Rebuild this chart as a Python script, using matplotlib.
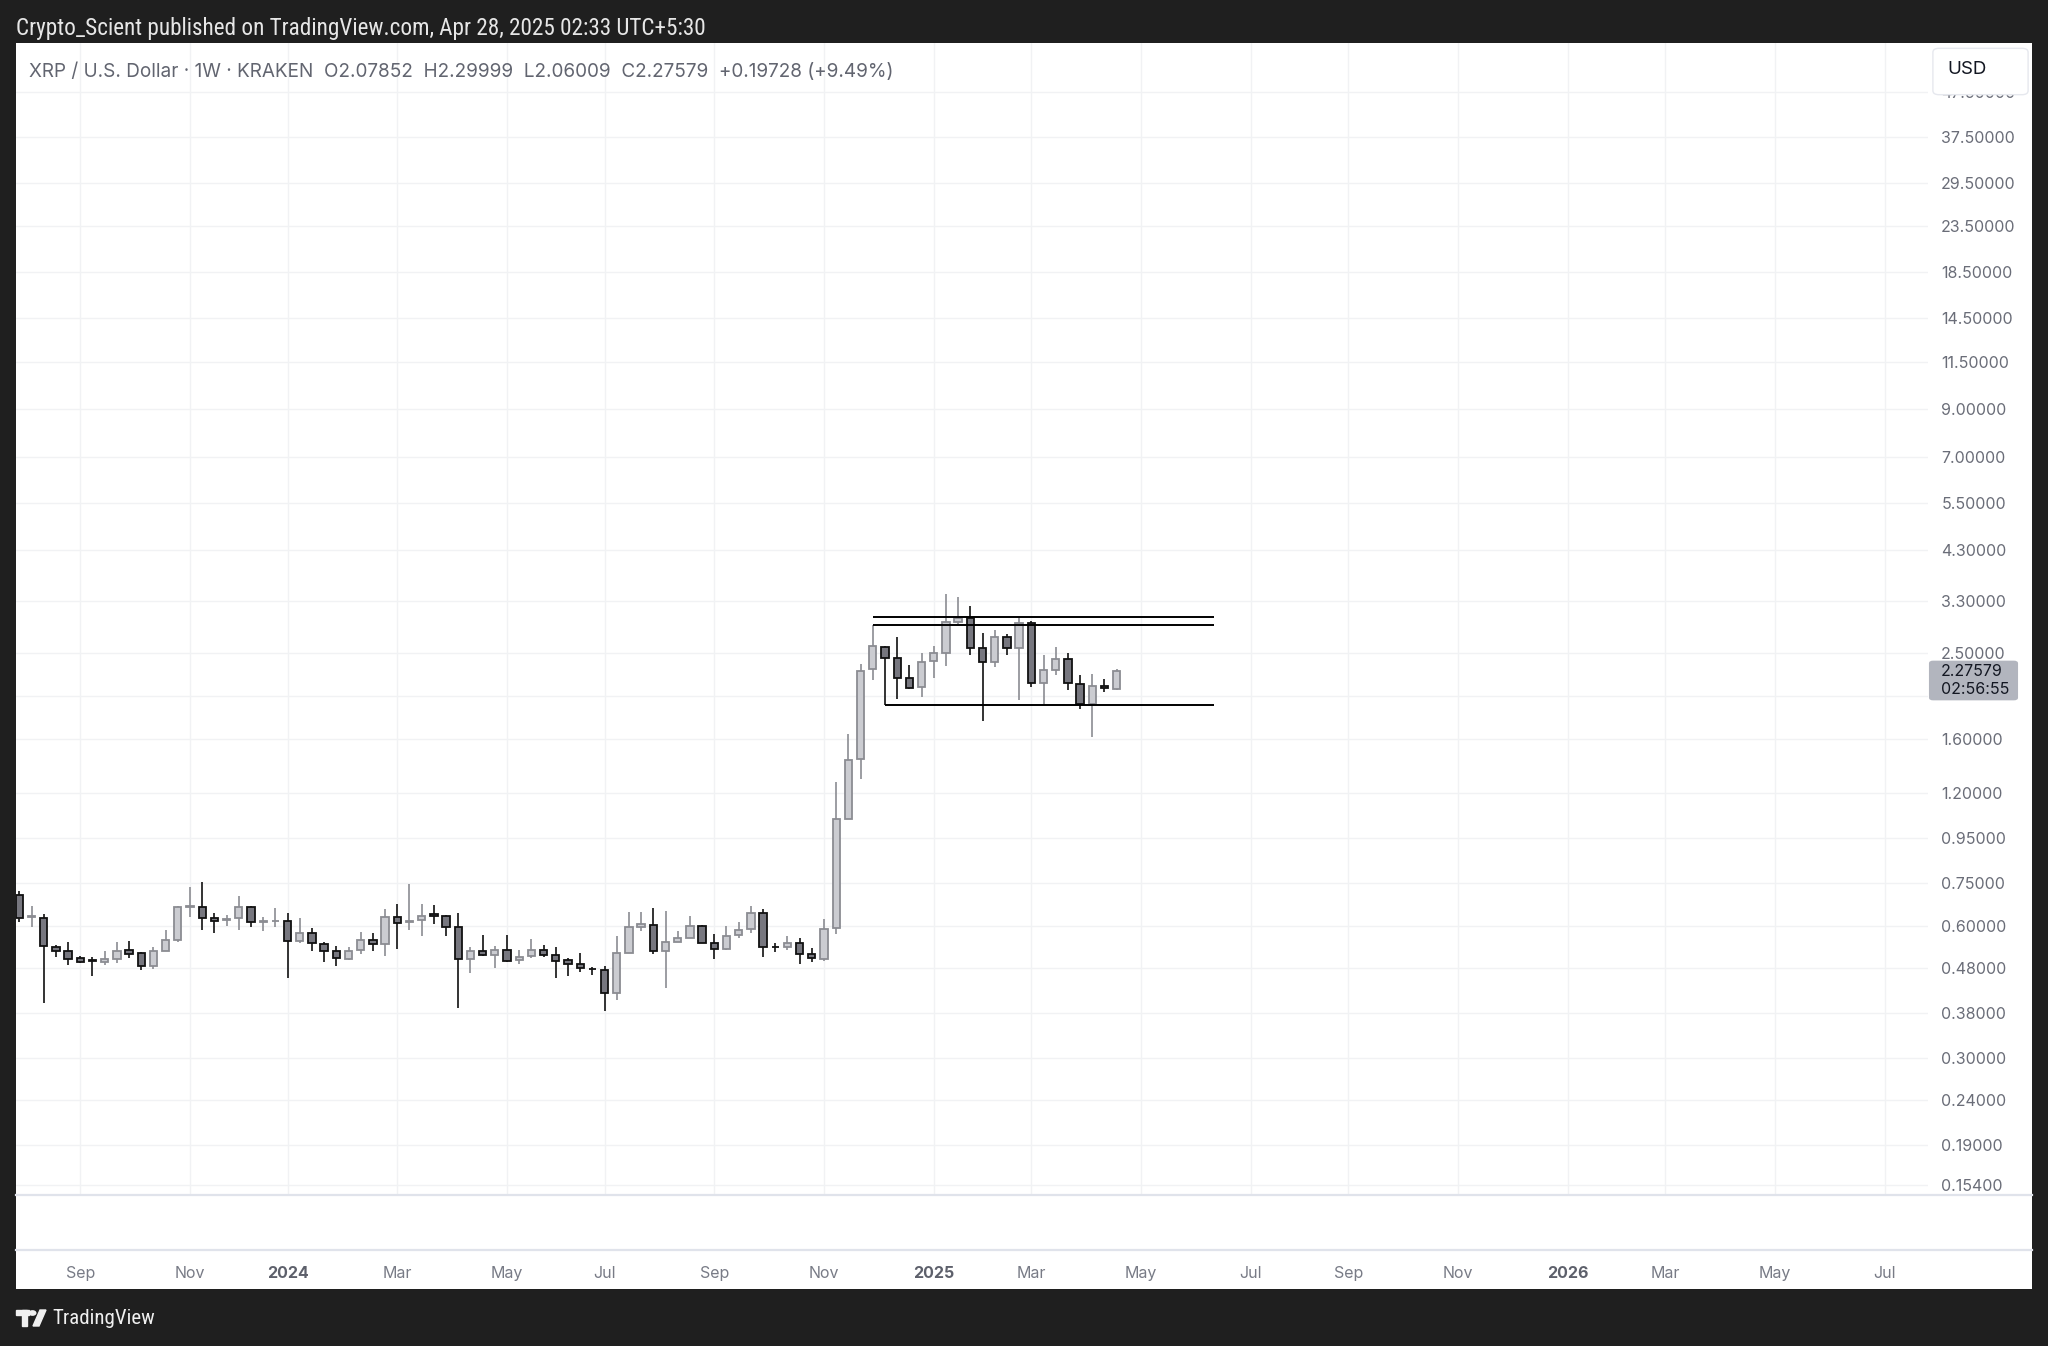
import numpy as np
import pandas as pd
import matplotlib
matplotlib.use("Agg")
import matplotlib.pyplot as plt
import matplotlib.dates as mdates
from matplotlib.patches import Rectangle, FancyBboxPatch, Polygon, Circle
from matplotlib.ticker import NullLocator

plt.rcParams['font.family'] = ['Inter', 'DejaVu Sans']

# weekly XRP/USD candles (Kraken), week starting 2023-07-31
first_week = '2023-07-31'
opens = [0.704, 0.627, 0.623, 0.537, 0.524, 0.505, 0.500, 0.497, 0.503, 0.528,
         0.519, 0.486, 0.524, 0.556, 0.660, 0.660, 0.626, 0.617, 0.623, 0.662,
         0.611, 0.614, 0.615, 0.553, 0.576, 0.545, 0.524, 0.504, 0.528, 0.556,
         0.544, 0.627, 0.612, 0.617, 0.637, 0.631, 0.595, 0.504, 0.525, 0.513,
         0.528, 0.500, 0.511, 0.528, 0.514, 0.501, 0.490, 0.479, 0.475, 0.421,
         0.520, 0.597, 0.602, 0.524, 0.551, 0.563, 0.598, 0.547, 0.531, 0.572,
         0.588, 0.640, 0.536, 0.535, 0.547, 0.517, 0.503, 0.591, 1.050, 1.435,
         2.304, 2.590, 2.437, 2.194, 2.094, 2.403, 2.502, 2.953, 3.016, 2.568,
         2.394, 2.721, 2.577, 2.938, 2.138, 2.292, 2.432, 2.131, 1.915, 2.111,
         2.07852]
highs = [0.720, 0.665, 0.637, 0.542, 0.551, 0.511, 0.508, 0.525, 0.550, 0.553,
         0.522, 0.536, 0.586, 0.665, 0.733, 0.753, 0.640, 0.634, 0.700, 0.665,
         0.629, 0.657, 0.642, 0.623, 0.592, 0.551, 0.540, 0.536, 0.581, 0.576,
         0.654, 0.671, 0.746, 0.671, 0.668, 0.634, 0.642, 0.536, 0.571, 0.539,
         0.571, 0.528, 0.558, 0.542, 0.536, 0.505, 0.521, 0.484, 0.486, 0.567,
         0.645, 0.645, 0.657, 0.647, 0.583, 0.631, 0.602, 0.573, 0.600, 0.613,
         0.666, 0.655, 0.549, 0.568, 0.561, 0.533, 0.620, 1.276, 1.640, 2.366,
         2.905, 2.604, 2.730, 2.353, 2.510, 2.600, 3.409, 3.367, 3.212, 2.788,
         2.827, 2.768, 3.006, 2.970, 2.480, 2.590, 2.502, 2.233, 2.241, 2.183,
         2.29999]
lows = [0.612, 0.595, 0.400, 0.510, 0.488, 0.493, 0.460, 0.488, 0.493, 0.507,
        0.475, 0.478, 0.524, 0.551, 0.627, 0.586, 0.576, 0.598, 0.586, 0.595,
        0.582, 0.596, 0.455, 0.549, 0.524, 0.497, 0.486, 0.500, 0.516, 0.524,
        0.511, 0.531, 0.586, 0.569, 0.605, 0.567, 0.389, 0.468, 0.511, 0.481,
        0.497, 0.490, 0.506, 0.510, 0.455, 0.460, 0.471, 0.463, 0.384, 0.406,
        0.520, 0.582, 0.517, 0.433, 0.551, 0.563, 0.549, 0.504, 0.528, 0.563,
        0.576, 0.510, 0.523, 0.528, 0.490, 0.495, 0.499, 0.573, 1.050, 1.292,
        2.175, 1.906, 1.966, 2.071, 1.993, 2.201, 2.341, 2.918, 2.480, 1.754,
        2.332, 2.480, 1.959, 2.094, 1.908, 2.233, 2.064, 1.865, 1.616, 2.039,
        2.06009]
closes = [0.623, 0.630, 0.539, 0.524, 0.504, 0.497, 0.499, 0.503, 0.525, 0.517,
          0.486, 0.524, 0.556, 0.660, 0.664, 0.626, 0.616, 0.620, 0.662, 0.610,
          0.614, 0.616, 0.553, 0.576, 0.547, 0.526, 0.505, 0.526, 0.556, 0.544,
          0.627, 0.608, 0.614, 0.632, 0.632, 0.595, 0.504, 0.525, 0.513, 0.528,
          0.499, 0.510, 0.528, 0.514, 0.499, 0.490, 0.480, 0.477, 0.421, 0.520,
          0.597, 0.604, 0.524, 0.551, 0.563, 0.598, 0.549, 0.531, 0.569, 0.586,
          0.640, 0.536, 0.535, 0.547, 0.517, 0.506, 0.589, 1.049, 1.430, 2.283,
          2.604, 2.437, 2.201, 2.089, 2.394, 2.502, 2.944, 3.016, 2.577, 2.394,
          2.721, 2.577, 2.928, 2.138, 2.292, 2.432, 2.138, 1.915, 2.108, 2.082,
          2.27579]

# drawn range levels
range_levels = [3.02, 2.905, 1.906]
range_starts = ['2024-12-02', '2024-12-02', '2024-12-09']
range_end = '2025-06-16'

price_ticks = [0.154, 0.19, 0.24, 0.30, 0.38, 0.48, 0.60, 0.75, 0.95, 1.2, 1.6,
               2.0, 2.5, 3.3, 4.3, 5.5, 7.0, 9.0, 11.5, 14.5, 18.5, 23.5, 29.5,
               37.5, 47.5]
month_starts = ['2023-09', '2023-11', '2024-01', '2024-03', '2024-05', '2024-07',
                '2024-09', '2024-11', '2025-01', '2025-03', '2025-05', '2025-07',
                '2025-09', '2025-11', '2026-01', '2026-03', '2026-05', '2026-07']
month_labels = ['Sep', 'Nov', '2024', 'Mar', 'May', 'Jul', 'Sep', 'Nov', '2025',
                'Mar', 'May', 'Jul', 'Sep', 'Nov', '2026', 'Mar', 'May', 'Jul']

W, H = 2048, 1346
fig = plt.figure(figsize=(W / 100, H / 100), dpi=100)
fig.patch.set_facecolor('#1f1f1f')

def fx(px):
    return px / W

def fy(py):
    return 1 - py / H

# white chart panel
fig.add_artist(Rectangle((fx(16), fy(1289)), fx(2032) - fx(16), fy(43) - fy(1289),
                         transform=fig.transFigure, facecolor='white',
                         edgecolor='none', zorder=-5))

ax = fig.add_axes([fx(16), fy(1195), fx(1928) - fx(16), fy(43) - fy(1195)])
ax.set_facecolor('white')
for s in ax.spines.values():
    s.set_visible(False)

dates = pd.date_range(first_week, periods=len(opens), freq='W-MON')
x = mdates.date2num(dates)
o = np.array(opens); h = np.array(highs); l = np.array(lows); c = np.array(closes)
up = c >= o

bull_fill, bull_edge = '#cbccd1', '#8b8c92'
bear_fill, bear_edge = '#77777f', '#111111'

ax.vlines(x[up], l[up], h[up], colors=bull_edge, lw=1.2, zorder=2)
ax.vlines(x[~up], l[~up], h[~up], colors=bear_edge, lw=1.2, zorder=2)
body_lo = np.minimum(o, c)
body_h = np.maximum(np.abs(c - o), body_lo * 0.002)
ax.bar(x[up], body_h[up], bottom=body_lo[up], width=4.2, color=bull_fill,
       edgecolor=bull_edge, linewidth=1.3, zorder=3)
ax.bar(x[~up], body_h[~up], bottom=body_lo[~up], width=4.2, color=bear_fill,
       edgecolor=bear_edge, linewidth=1.3, zorder=3)

for lvl, st in zip(range_levels, range_starts):
    ax.hlines(lvl, mdates.datestr2num(st), mdates.datestr2num(range_end),
              colors='black', lw=1.4, zorder=4)

ax.set_yscale('log')
ax.set_ylim(0.1461, 61.4)
ax.set_xlim(x[0] - 1.9, x[0] + 1095.8)

ax.yaxis.tick_right()
ax.set_yticks(price_ticks)
# 2.00000 sits under the last-price label, so it is left blank
ax.set_yticklabels(['' if v == 2.0 else f'{v:.5f}' for v in price_ticks])
ax.yaxis.set_minor_locator(NullLocator())
ax.tick_params(axis='y', length=0, pad=9.5, labelsize=11.5, labelcolor='#6a6d78')

tick_dates = []
for m in month_starts:
    d = pd.Timestamp(m + '-01')
    d = d + pd.Timedelta(days=(7 - d.weekday()) % 7)
    tick_dates.append(d)
ax.set_xticks(mdates.date2num(tick_dates))
ax.set_xticklabels(month_labels)
ax.xaxis.set_minor_locator(NullLocator())
ax.tick_params(axis='x', length=0, pad=51, labelsize=11.5, labelcolor='#787b86')
for t in ax.get_xticklabels():
    if len(t.get_text()) == 4:
        t.set_fontweight('bold')
        t.set_color('#5d606b')

ax.grid(True, color='#f1f2f4', lw=1.0)
ax.set_axisbelow(True)

# pane separators
for yy in (1195, 1250):
    fig.add_artist(plt.Line2D([fx(16), fx(2032)], [fy(yy), fy(yy)],
                              transform=fig.transFigure, color='#e0e3eb', lw=1.6))

# header texts
fig.text(fx(16), fy(29), 'Crypto_Scient published on TradingView.com, Apr 28, 2025 02:33 UTC+5:30',
         color='#e6e6e6', fontsize=16.7, va='center', ha='left',
         family=['Liberation Sans Narrow', 'Roboto Condensed', 'Roboto'])
fig.text(fx(29), fy(72), 'XRP / U.S. Dollar \u00b7 1W \u00b7 KRAKEN  O2.07852  H2.29999  '
         'L2.06009  C2.27579  +0.19728 (+9.49%)',
         color='#626570', fontsize=13.65, va='center', ha='left')

# USD box
fig.add_artist(FancyBboxPatch((fx(1937), fy(92)), fx(2024) - fx(1937), fy(51) - fy(92),
                              boxstyle='round,pad=0.002,rounding_size=0.003',
                              transform=fig.transFigure, facecolor='white',
                              edgecolor='#e6e8ee', lw=1.0, zorder=5))
fig.text(fx(1967), fy(70), 'USD', color='#131722', fontsize=13.5, va='center',
         ha='center', zorder=6)

# last price label
fig.add_artist(FancyBboxPatch((fx(1931), fy(699)), fx(2016) - fx(1931), fy(662) - fy(699),
                              boxstyle='round,pad=0.001,rounding_size=0.002',
                              transform=fig.transFigure, facecolor='#b2b5be',
                              edgecolor='none', zorder=5))
fig.text(fx(1941), fy(671), '2.27579', color='#131722', fontsize=11.5, va='center',
         ha='left', zorder=6)
fig.text(fx(1941), fy(689), '02:56:55', color='#131722', fontsize=11.5, va='center',
         ha='left', zorder=6)

# TradingView logo
logo = '#f0f0f0'
fig.add_artist(Rectangle((fx(16), fy(1315)), fx(29) - fx(16), fy(1310) - fy(1315),
                         transform=fig.transFigure, color=logo))
fig.add_artist(Rectangle((fx(22), fy(1326)), fx(27) - fx(22), fy(1310) - fy(1326),
                         transform=fig.transFigure, color=logo))
fig.add_artist(Circle((fx(32.5), fy(1313)), 0.0016, transform=fig.transFigure, color=logo))
fig.add_artist(Polygon([(fx(33), fy(1326)), (fx(40), fy(1310)), (fx(46), fy(1310)),
                        (fx(39), fy(1326))], closed=True, transform=fig.transFigure,
                       color=logo))
fig.text(fx(52), fy(1318), 'TradingView', color='#f0f0f0', fontsize=15, va='center',
         ha='left', family=['Liberation Sans Narrow', 'Roboto Condensed', 'Roboto'])

fig.savefig('out.png', dpi=100, facecolor=fig.get_facecolor())
